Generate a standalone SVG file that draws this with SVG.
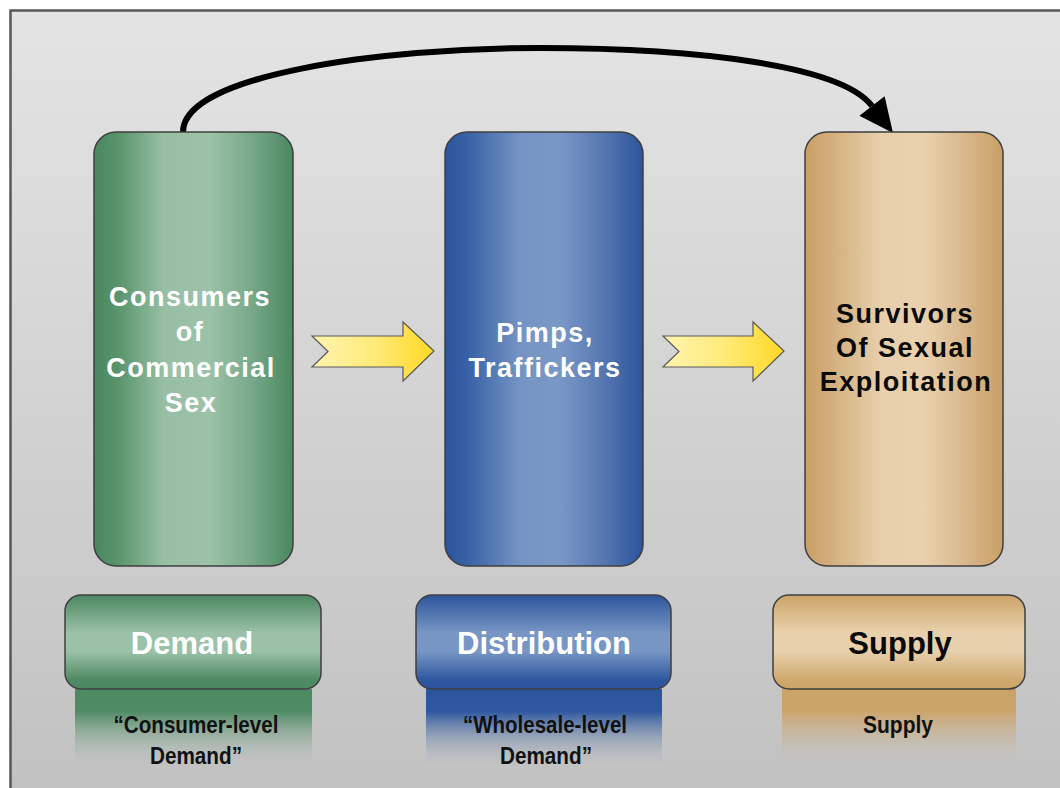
<svg xmlns="http://www.w3.org/2000/svg" width="1060" height="788" viewBox="0 0 1060 788">
<defs>
<linearGradient id="bg" x1="0" y1="0" x2="0" y2="1">
<stop offset="0" stop-color="#e4e4e4"/><stop offset="1" stop-color="#c1c1c1"/>
</linearGradient>
<linearGradient id="gCol" x1="0" y1="0" x2="1" y2="0">
<stop offset="0" stop-color="#4a8760"/><stop offset="0.12" stop-color="#58946c"/><stop offset="0.35" stop-color="#98bfa5"/><stop offset="0.58" stop-color="#9cc2a9"/><stop offset="0.78" stop-color="#7aaa8b"/><stop offset="1" stop-color="#4a8760"/>
</linearGradient>
<linearGradient id="bCol" x1="0" y1="0" x2="1" y2="0">
<stop offset="0" stop-color="#2b549c"/><stop offset="0.12" stop-color="#3a62a6"/><stop offset="0.38" stop-color="#7594c4"/><stop offset="0.58" stop-color="#7a98c6"/><stop offset="0.8" stop-color="#5677b2"/><stop offset="1" stop-color="#2b549c"/>
</linearGradient>
<linearGradient id="tCol" x1="0" y1="0" x2="1" y2="0">
<stop offset="0" stop-color="#c99f66"/><stop offset="0.12" stop-color="#d2ad7b"/><stop offset="0.38" stop-color="#e7cfab"/><stop offset="0.6" stop-color="#e9d1ae"/><stop offset="0.82" stop-color="#d8b689"/><stop offset="1" stop-color="#c99f66"/>
</linearGradient>
<linearGradient id="gBox" x1="0" y1="0" x2="0" y2="1">
<stop offset="0" stop-color="#4b8861"/><stop offset="0.4" stop-color="#9bc1a8"/><stop offset="0.6" stop-color="#9bc1a8"/><stop offset="0.9" stop-color="#4f8b64"/><stop offset="1" stop-color="#4b8861"/>
</linearGradient>
<linearGradient id="bBox" x1="0" y1="0" x2="0" y2="1">
<stop offset="0" stop-color="#2b549c"/><stop offset="0.4" stop-color="#7896c5"/><stop offset="0.6" stop-color="#7896c5"/><stop offset="0.9" stop-color="#2f58a0"/><stop offset="1" stop-color="#2b549c"/>
</linearGradient>
<linearGradient id="tBox" x1="0" y1="0" x2="0" y2="1">
<stop offset="0" stop-color="#cca468"/><stop offset="0.4" stop-color="#e8d0ac"/><stop offset="0.6" stop-color="#e8d0ac"/><stop offset="0.9" stop-color="#d0a96f"/><stop offset="1" stop-color="#cca468"/>
</linearGradient>
<linearGradient id="gFade" x1="0" y1="0" x2="0" y2="1">
<stop offset="0" stop-color="#4c8a62"/><stop offset="0.28" stop-color="#4f8c65"/><stop offset="1" stop-color="#c3c3c3" stop-opacity="0"/>
</linearGradient>
<linearGradient id="bFade" x1="0" y1="0" x2="0" y2="1">
<stop offset="0" stop-color="#2b549c"/><stop offset="0.28" stop-color="#2f58a0"/><stop offset="1" stop-color="#c3c3c3" stop-opacity="0"/>
</linearGradient>
<linearGradient id="tFade" x1="0" y1="0" x2="0" y2="1">
<stop offset="0" stop-color="#cba367"/><stop offset="0.28" stop-color="#cca56b"/><stop offset="1" stop-color="#c3c3c3" stop-opacity="0"/>
</linearGradient>
<linearGradient id="yel" x1="0" y1="0" x2="1" y2="0">
<stop offset="0" stop-color="#fff4b0"/><stop offset="0.5" stop-color="#ffeb7a"/><stop offset="1" stop-color="#ffd824"/>
</linearGradient>
</defs>
<style>
.col{stroke:#3f3f3f;stroke-width:1.5}
.box{stroke:#3f3f3f;stroke-width:1.5}
.ct{font-family:"Liberation Sans",Arial,sans-serif;font-weight:bold;font-size:27px;letter-spacing:1.5px;text-anchor:middle}
.lt{font-family:"Liberation Sans",Arial,sans-serif;font-weight:bold;font-size:31px;text-anchor:middle}
.st{font-family:"Liberation Sans Narrow","Liberation Sans",Arial,sans-serif;font-weight:bold;font-size:23px;text-anchor:middle;fill:#111}
.w{fill:#ffffff}
.k{fill:#0a0a0a}
.ya{fill:url(#yel);stroke:#5a5a5a;stroke-width:1.2}
</style>
<rect x="0" y="0" width="1060" height="788" fill="#ffffff"/>
<rect x="10.5" y="10.5" width="1060" height="790" fill="url(#bg)" stroke="#575757" stroke-width="2.5"/>

<g id="connectors">
<path d="M183,132 C183,75 380,48 540,48 C700,48 842,66 872,106" fill="none" stroke="#000" stroke-width="6"/>
<polygon points="893,133 859.4,115.8 884.6,96.2" fill="#000"/>
<polygon class="ya" points="312,336 403,336 403,322 434,351 403,381 403,367 312,367 328,351.5"/>
<polygon class="ya" points="663,336 753,336 753,322 784,351 753,381 753,367 663,367 679,351.5"/>
</g>

<g id="node-consumers">
<rect class="col" x="94" y="132" width="199" height="434" rx="22" fill="url(#gCol)"/>
<text class="ct w" x="190" y="306">Consumers</text>
<text class="ct w" x="190" y="341">of</text>
<text class="ct w" x="191" y="377">Commercial</text>
<text class="ct w" x="191" y="412">Sex</text>
</g>
<g id="node-pimps">
<rect class="col" x="445" y="132" width="198" height="434" rx="22" fill="url(#bCol)"/>
<text class="ct w" x="545" y="342">Pimps,</text>
<text class="ct w" x="545" y="377">Traffickers</text>
</g>
<g id="node-survivors">
<rect class="col" x="805" y="132" width="198" height="434" rx="22" fill="url(#tCol)"/>
<text class="ct k" x="905" y="323">Survivors</text>
<text class="ct k" x="905" y="357">Of Sexual</text>
<text class="ct k" x="906" y="391">Exploitation</text>
</g>

<g id="node-demand">
<rect x="75" y="689" width="237" height="80" fill="url(#gFade)"/>
<rect class="box" x="65" y="595" width="256" height="94" rx="16" fill="url(#gBox)"/>
<text class="lt w" x="192" y="654">Demand</text>
<text class="st" x="196" y="733" textLength="165" lengthAdjust="spacingAndGlyphs">“Consumer-level</text>
<text class="st" x="196" y="764" textLength="92" lengthAdjust="spacingAndGlyphs">Demand”</text>
</g>
<g id="node-distribution">
<rect x="426" y="689" width="236" height="80" fill="url(#bFade)"/>
<rect class="box" x="416" y="595" width="255" height="94" rx="16" fill="url(#bBox)"/>
<text class="lt w" x="544" y="654">Distribution</text>
<text class="st" x="545" y="733" textLength="164" lengthAdjust="spacingAndGlyphs">“Wholesale-level</text>
<text class="st" x="546" y="764" textLength="92" lengthAdjust="spacingAndGlyphs">Demand”</text>
</g>
<g id="node-supply">
<rect x="782" y="689" width="234" height="80" fill="url(#tFade)"/>
<rect class="box" x="773" y="595" width="252" height="94" rx="16" fill="url(#tBox)"/>
<text class="lt k" x="900" y="654">Supply</text>
<text class="st" x="898" y="733" textLength="70" lengthAdjust="spacingAndGlyphs">Supply</text>
</g>
</svg>
